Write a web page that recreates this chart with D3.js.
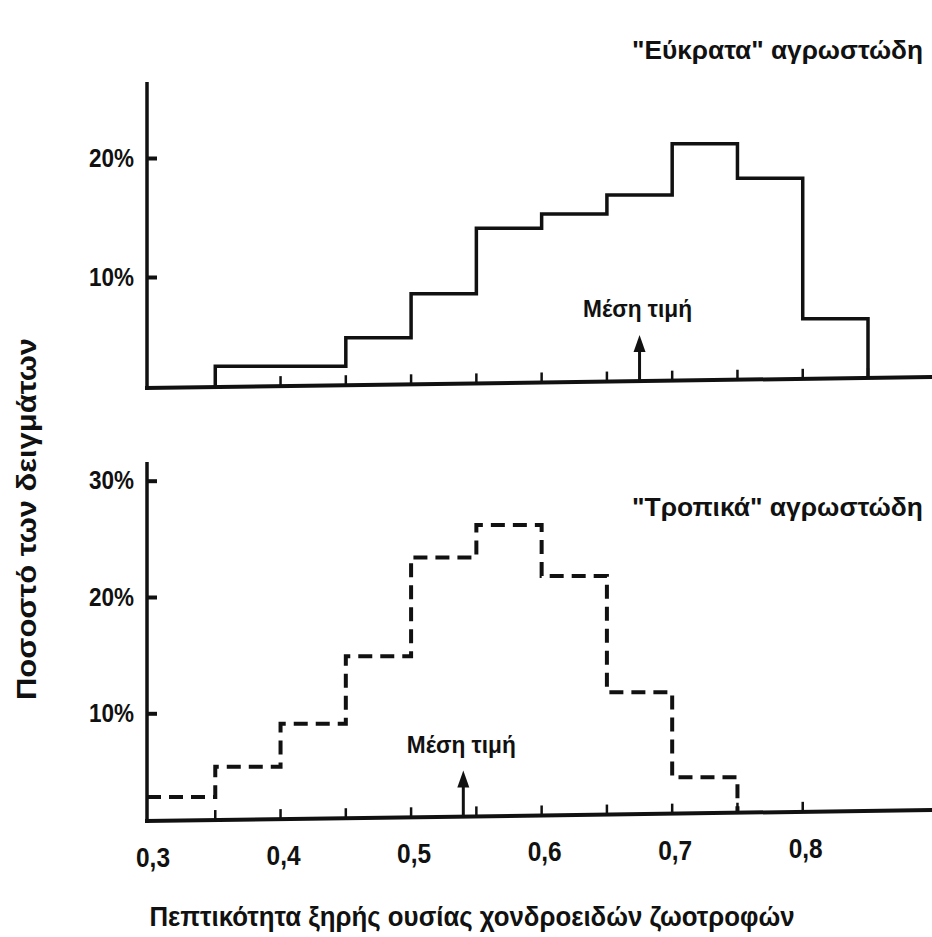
<!DOCTYPE html>
<html>
<head>
<meta charset="utf-8">
<script src="https://cdn.jsdelivr.net/npm/d3@7"></script>
<style>
  body { margin: 0; background: #fff; }
  svg { display: block; }
  text { fill: #111; font-family: "Liberation Sans", Arial, sans-serif; font-weight: bold; }
</style>
</head>
<body>
<div id="chart"></div>
<script>

// bin edges (left edge of each 0.05 class)
var aEdgesTop = [0.35, 0.40, 0.45, 0.50, 0.55, 0.60, 0.65, 0.70, 0.75, 0.80];
var aTemperate = [2.5, 2.5, 4.9, 8.6, 14.1, 15.3, 16.9, 21.2, 18.3, 6.5];

var aEdgesBottom = [0.30, 0.35, 0.40, 0.45, 0.50, 0.55, 0.60, 0.65, 0.70];
var aTropical = [2.8, 5.4, 9.1, 14.9, 23.4, 26.2, 21.8, 11.8, 4.5];

var binWidth = 0.05;
var meanTemperate = 0.675;
var meanTropical = 0.54;

var aTicksTop = [10, 20];
var aTicksBottom = [10, 20, 30];
var aXTicks = [0.35, 0.40, 0.45, 0.50, 0.55, 0.60, 0.65, 0.70, 0.75, 0.80, 0.85];
var aXLabels = [0.3, 0.4, 0.5, 0.6, 0.7, 0.8];

var titleTop = "\"Εύκρατα\" αγρωστώδη";
var titleBottom = "\"Τροπικά\" αγρωστώδη";
var meanLabel = "Μέση τιμή";
var xTitle = "Πεπτικότητα ξηρής ουσίας χονδροειδών ζωοτροφών";
var yTitle = "Ποσοστό των δειγμάτων";


var W = 932, H = 937;
var axisX = 147;
var tilt = 0.014; // the scanned baseline rises a little to the right

var svg = d3.select("#chart").append("svg")
    .attr("width", W)
    .attr("height", H);

var x = d3.scaleLinear().domain([0.3, 0.85]).range([150, 868]);

function panel(o){

    var y = d3.scaleLinear().domain([0, o.tick]).range([o.zeroY, o.tickY]);
    var base = function(px){ return o.baseY - tilt * (px - axisX); };

    var g = svg.append("g");

    // y axis line
    g.append("line")
        .attr("x1", axisX).attr("x2", axisX)
        .attr("y1", o.topY).attr("y2", base(axisX) + 2)
        .attr("stroke", "#111").attr("stroke-width", 3.5);

    // y ticks + labels
    var yAxis = d3.axisLeft(y)
        .tickValues(o.ticks)
        .tickSize(-10)
        .tickPadding(13)
        .tickFormat(function(d){ return d + "%"; });

    var ga = g.append("g")
        .attr("transform", "translate(" + axisX + ",0)")
        .call(yAxis);
    ga.select(".domain").remove();
    ga.selectAll(".tick line").attr("stroke", "#111").attr("stroke-width", 4);
    ga.selectAll(".tick text")
        .attr("font-size", "25px")
        .attr("font-family", "\"Liberation Sans\", Arial, sans-serif")
        .attr("font-weight", "bold")
        .attr("textLength", 45)
        .attr("lengthAdjust", "spacingAndGlyphs")
        .attr("fill", "#111");

    // baseline
    g.append("line")
        .attr("x1", axisX - 2).attr("x2", W)
        .attr("y1", base(axisX - 2)).attr("y2", base(W))
        .attr("stroke", "#111").attr("stroke-width", 4);

    // small ticks on the baseline
    g.selectAll("line.xt")
        .data(o.xticks)
        .enter()
        .append("line")
        .attr("class", "xt")
        .attr("x1", function(d){ return x(d); })
        .attr("x2", function(d){ return x(d); })
        .attr("y1", function(d){ return base(x(d)); })
        .attr("y2", function(d){ return base(x(d)) - 10; })
        .attr("stroke", "#111").attr("stroke-width", 2.5);

    // histogram outline
    var pts = [];
    if(o.fromBase){ pts.push([x(o.edges[0]), base(x(o.edges[0]))]); }
    o.edges.forEach(function(e, i){
        var x0 = (i == 0 && !o.fromBase) ? axisX : x(e);
        pts.push([x0, y(o.values[i])]);
        pts.push([x(e + binWidth), y(o.values[i])]);
    });
    var last = o.edges[o.edges.length - 1] + binWidth;
    pts.push([x(last), base(x(last))]);

    g.append("path")
        .attr("d", d3.line()(pts))
        .attr("fill", "none")
        .attr("stroke", "#111")
        .attr("stroke-width", o.dash ? 4 : 3.5)
        .attr("stroke-dasharray", o.dash ? "14,8" : null)
        .attr("stroke-linejoin", "miter");

    // mean arrow
    var mx = x(o.mean);
    var tip = base(mx) - 46;
    g.append("line")
        .attr("x1", mx).attr("x2", mx)
        .attr("y1", base(mx)).attr("y2", tip + 10)
        .attr("stroke", "#111").attr("stroke-width", 3);
    g.append("path")
        .attr("d", "M" + mx + "," + tip + " L" + (mx - 6) + "," + (tip + 17) + " L" + (mx + 6) + "," + (tip + 17) + " Z")
        .attr("fill", "#111");
    g.append("text")
        .text(meanLabel)
        .attr("x", mx - 2)
        .attr("y", tip - 18)
        .attr("text-anchor", "middle")
        .attr("font-size", "23px")
        .attr("textLength", 109)
        .attr("lengthAdjust", "spacingAndGlyphs");

    // panel title
    g.append("text")
        .text(o.title)
        .attr("x", 923)
        .attr("y", o.titleY)
        .attr("text-anchor", "end")
        .attr("font-size", "26px")
        .attr("textLength", 291)
        .attr("lengthAdjust", "spacingAndGlyphs");

    return base;
}

panel({
    edges: aEdgesTop, values: aTemperate, mean: meanTemperate,
    tick: 20, tickY: 158, zeroY: 396, ticks: aTicksTop,
    baseY: 388, topY: 82, xticks: aXTicks,
    fromBase: true, dash: false, title: titleTop, titleY: 59
});

var baseBottom = panel({
    edges: aEdgesBottom, values: aTropical, mean: meanTropical,
    tick: 30, tickY: 480.7, zeroY: 829.6, ticks: aTicksBottom,
    baseY: 821, topY: 462, xticks: aXTicks.slice(0, 10),
    fromBase: false, dash: true, title: titleBottom, titleY: 516
});

// x tick labels under the lower panel
svg.selectAll("text.xl")
    .data(aXLabels)
    .enter()
    .append("text")
    .attr("class", "xl")
    .text(function(d){ return String(d).replace(".", ","); })
    .attr("x", function(d){ return x(d) + 3; })
    .attr("y", function(d){ return baseBottom(x(d)) + 46; })
    .attr("text-anchor", "middle")
    .attr("font-size", "27px")
    .attr("textLength", 34)
    .attr("lengthAdjust", "spacingAndGlyphs");

svg.append("text")
    .text(xTitle)
    .attr("x", 472)
    .attr("y", 926)
    .attr("text-anchor", "middle")
    .attr("font-size", "28px")
    .attr("textLength", 645)
    .attr("lengthAdjust", "spacingAndGlyphs");

svg.append("text")
    .text(yTitle)
    .attr("transform", "translate(36,519) rotate(-90)")
    .attr("text-anchor", "middle")
    .attr("font-size", "27px")
    .attr("textLength", 362)
    .attr("lengthAdjust", "spacingAndGlyphs");

</script>
</body>
</html>
